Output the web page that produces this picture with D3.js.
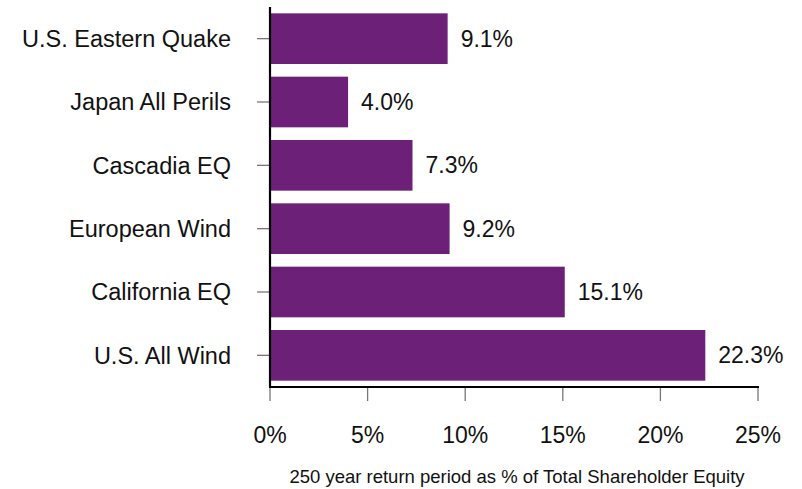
<!DOCTYPE html>
<html lang="en">
<head>
<meta charset="UTF-8">
<title>Cat exposure</title>
<script src="https://d3js.org/d3.v7.min.js"></script>
<style>
    body { margin: 0; background: #fff; }
    text { font-family: "Liberation Sans", Arial, sans-serif; fill: #111; }
</style>
</head>
<body>
<svg width="802" height="489"></svg>
<script>
    // data
    const categories = ["U.S. Eastern Quake", "Japan All Perils", "Cascadia EQ",
                        "European Wind", "California EQ", "U.S. All Wind"];
    const values = [9.1, 4.0, 7.3, 9.2, 15.1, 22.3];
    const xTicks = [0, 5, 10, 15, 20, 25];
    const xTitle = "250 year return period as % of Total Shareholder Equity";

    const svg = d3.select("svg");
    const plotLeft = 270, plotRight = 758, plotTop = 7, plotBottom = 387;

    const x = d3.scaleLinear().domain([0, 25]).range([plotLeft, plotRight]);
    const y = d3.scaleBand().domain(categories).range([plotTop, plotBottom])
        .paddingInner(0.2).paddingOuter(0.1);

    // bars
    svg.append("g").selectAll("rect")
        .data(values)
        .enter().append("rect")
        .attr("x", x(0))
        .attr("y", (d, i) => y(categories[i]))
        .attr("width", d => x(d) - x(0))
        .attr("height", y.bandwidth())
        .attr("fill", "#6c2077");

    // value labels
    svg.append("g").selectAll("text")
        .data(values)
        .enter().append("text")
        .attr("x", d => x(d) + 13)
        .attr("y", (d, i) => y(categories[i]) + y.bandwidth() / 2)
        .attr("dy", "0.35em")
        .attr("font-size", 23)
        .text(d => d.toFixed(1) + "%");

    // y axis: ticks + labels
    const yg = svg.append("g");
    categories.forEach(c => {
        const cy = y(c) + y.bandwidth() / 2;
        yg.append("line").attr("x1", plotLeft - 13).attr("x2", plotLeft)
            .attr("y1", cy).attr("y2", cy)
            .attr("stroke", "#777").attr("stroke-width", 1.3);
        yg.append("text").attr("x", 231).attr("y", cy).attr("dy", "0.35em")
            .attr("text-anchor", "end").attr("font-size", 23.5).text(c);
    });

    // x axis: ticks + labels
    const xg = svg.append("g");
    xTicks.forEach(t => {
        xg.append("line").attr("x1", x(t)).attr("x2", x(t))
            .attr("y1", plotBottom).attr("y2", plotBottom + 14)
            .attr("stroke", "#777").attr("stroke-width", 1.3);
        xg.append("text").attr("x", x(t)).attr("y", 435).attr("dy", "0.35em")
            .attr("text-anchor", "middle").attr("font-size", 23).text(t + "%");
    });

    // axis lines
    svg.append("line").attr("x1", plotLeft).attr("x2", plotLeft)
        .attr("y1", plotTop).attr("y2", plotBottom)
        .attr("stroke", "#000").attr("stroke-width", 2.2);
    svg.append("line").attr("x1", plotLeft - 1).attr("x2", plotRight + 1)
        .attr("y1", plotBottom).attr("y2", plotBottom)
        .attr("stroke", "#000").attr("stroke-width", 2.2);

    svg.append("text").attr("x", 517).attr("y", 483)
        .attr("text-anchor", "middle").attr("font-size", 18.5).text(xTitle);
</script>
</body>
</html>
